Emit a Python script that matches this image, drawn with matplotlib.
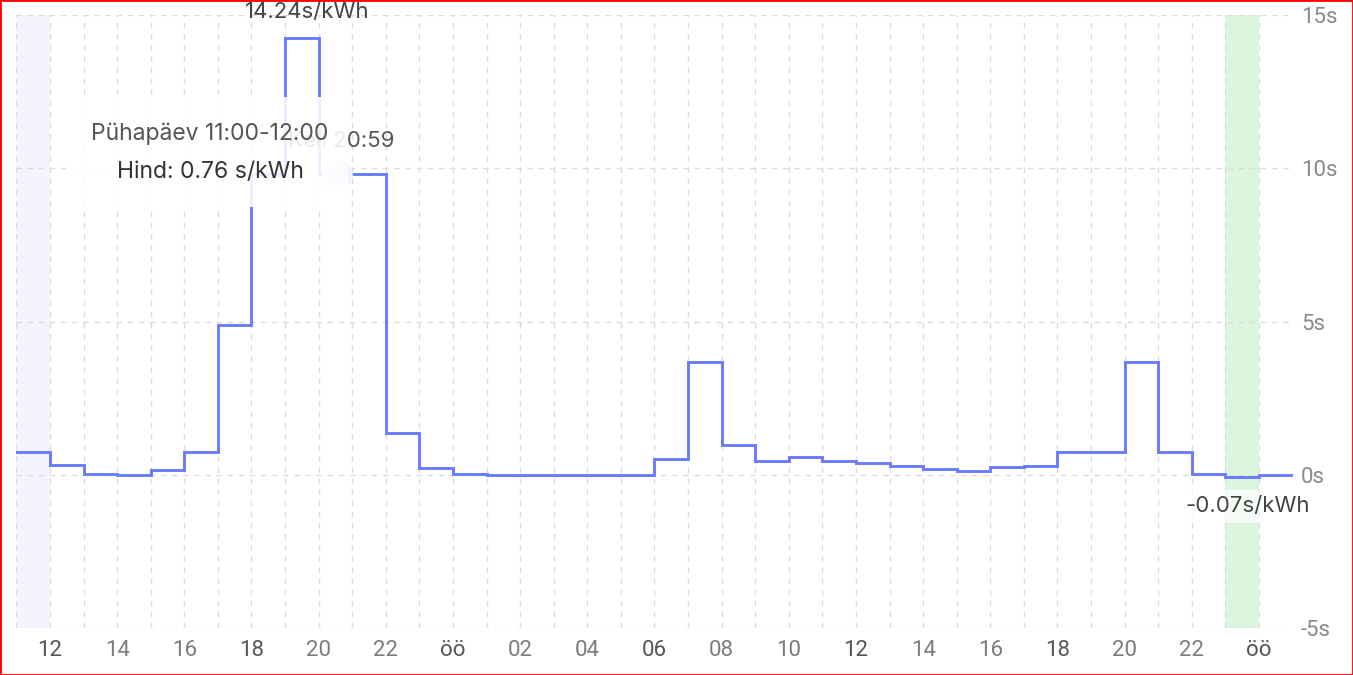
import matplotlib.pyplot as plt
from matplotlib.patches import Rectangle

# hourly electricity price, s/kWh, from 11:00 today to 00:00 of the day after tomorrow
HOURS = list(range(11, 49))
PRICES = [0.76, 0.33, 0.03, 0.00, 0.16, 0.75, 4.90, 9.80, 14.24, 9.81, 9.81, 1.37, 0.23,
          0.03, 0.01, 0.00, 0.00, 0.00, 0.00, 0.52, 3.68, 0.98, 0.46, 0.58, 0.45,
          0.38, 0.31, 0.20, 0.13, 0.26, 0.30, 0.74, 0.74, 3.68, 0.74, 0.04, -0.07,
          0.00]
TICK_HOURS = list(range(12, 49, 2))
TICK_LABELS = ["öö" if h % 24 == 0 else f"{h % 24:02d}" for h in TICK_HOURS]
Y_TICKS = [-5, 0, 5, 10, 15]
Y_LABELS = [f"{v}s" for v in Y_TICKS]

CURRENT_HOUR = 11          # highlighted hour (tooltip)
NOW_X, NOW_LABEL = 20.55, "Kell 20:59"
TOOLTIP_TITLE = "Pühapäev 11:00-12:00"
TOOLTIP_TEXT = "Hind: 0.76 s/kWh"

LINE = "#6b7bff"
TICK_FONT = ["Liberation Sans Narrow", "Roboto", "DejaVu Sans"]
TEXT_FONT = ["Inter", "DejaVu Sans"]

fig = plt.figure(figsize=(13.53, 6.75), dpi=100)
ax = fig.add_axes([0.01212, 0.069, 0.9432, 0.9088])

xs = HOURS + [HOURS[-1] + 1]
ys = PRICES + [PRICES[-1]]
ax.step(xs, ys, where="post", color=LINE, lw=2.1, zorder=3, solid_joinstyle="miter")

# highlighted current hour and cheapest hour
ax.axvspan(CURRENT_HOUR, CURRENT_HOUR + 1, color="#f3f4fe", zorder=0, lw=0)
imin = PRICES.index(min(PRICES))
ax.axvspan(HOURS[imin], HOURS[imin] + 1, color="#dcf5df", zorder=0, lw=0)

ax.set_xlim(HOURS[0], HOURS[-1] + 1)
ax.set_ylim(-5, 15)
ax.set_xticks(HOURS, minor=True)
ax.set_xticks(TICK_HOURS)
ax.set_xticklabels(TICK_LABELS)
ax.set_yticks(Y_TICKS)
ax.set_yticklabels(Y_LABELS)
ax.yaxis.tick_right()
ax.tick_params(axis="both", which="both", length=0)
ax.tick_params(axis="x", pad=8)
ax.tick_params(axis="y", pad=6)
for lab, h in zip(ax.get_xticklabels(), TICK_HOURS):
    lab.set_fontfamily(TICK_FONT)
    lab.set_fontsize(16)
    lab.set_color("#555555" if h % 6 == 0 else "#7c7c7c")
for lab in ax.get_yticklabels():
    lab.set_fontfamily(TICK_FONT)
    lab.set_fontsize(16)
    lab.set_color("#8a8a8a")

ax.grid(True, which="both", axis="x", color="#dcdcdc", lw=1, ls=(0, (4, 4)), zorder=0.5)
ax.grid(True, which="major", axis="y", color="#dcdcdc", lw=1, ls=(0, (4, 4)), zorder=0.5)
ax.set_axisbelow(True)
for s in ax.spines.values():
    s.set_visible(False)

# max / min labels
imax = PRICES.index(max(PRICES))
ax.annotate(f"{PRICES[imax]:.2f}s/kWh", (HOURS[imax] + 0.5, PRICES[imax]),
            xytext=(4, 19), textcoords="offset points", ha="center", va="center",
            fontsize=16, color="#444444", family=TEXT_FONT, zorder=6,
            annotation_clip=False)
ax.annotate(f"{PRICES[imin]:.2f}s/kWh", (HOURS[imin] + 0.5, PRICES[imin]),
            xytext=(4, -21), textcoords="offset points", ha="center", va="center",
            fontsize=16, color="#444444", family=TEXT_FONT, zorder=6,
            bbox=dict(boxstyle="square,pad=0.3", fc="white", ec="none", alpha=0.7))

# current time marker
now_y = PRICES[HOURS.index(int(NOW_X))]
ax.plot([NOW_X], [now_y], "o", ms=22, mfc="#f1f2ff", mec="none", zorder=4)
ax.plot([NOW_X], [now_y], "o", ms=14, mfc="#dfe3ff", mec="none", zorder=4)
ax.annotate(NOW_LABEL, (NOW_X, now_y), xytext=(3, 24), textcoords="offset points",
            ha="center", va="center", fontsize=16, color="#555555",
            family=TEXT_FONT, zorder=4)

# tooltip overlay
ax.add_patch(Rectangle((12.66, 8.74), 8.21, 3.58, fc="white", ec="none",
                       alpha=0.88, zorder=5))
ax.text(16.77, 11.12, TOOLTIP_TITLE, ha="center", va="center", fontsize=16.5,
        color="#555555", family=TEXT_FONT, zorder=6)
ax.text(16.77, 9.88, TOOLTIP_TEXT, ha="center", va="center", fontsize=16.5,
        color="#333333", family=TEXT_FONT, zorder=6)

fig.add_artist(Rectangle((0, 0), 1, 1, transform=fig.transFigure, fill=False,
                         ec="red", lw=2))

fig.savefig("out.png", dpi=100)
